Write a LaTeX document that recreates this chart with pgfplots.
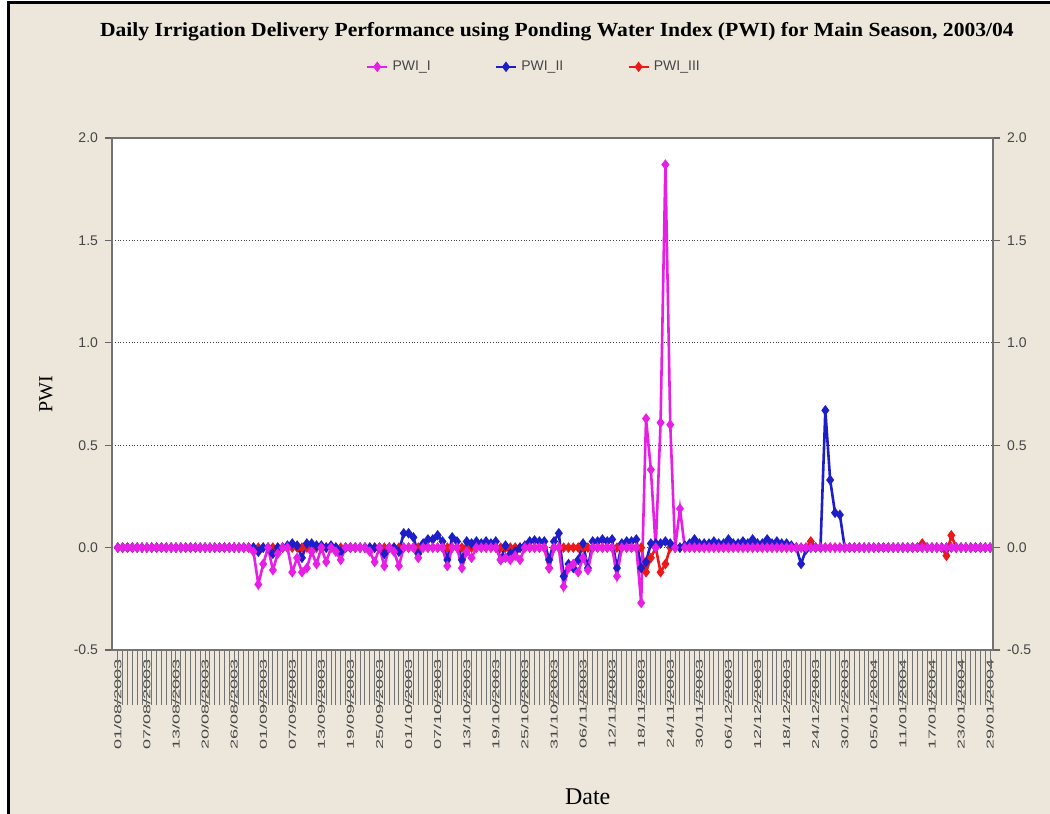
\documentclass[border=0pt]{standalone}
\usepackage{pgfplots}
\pgfplotsset{compat=1.18}
\usepackage{pgfplotstable}
\usepackage{fontspec}
\setmainfont{Liberation Serif}
\setsansfont{Liberation Sans}

\definecolor{bg}{RGB}{236,231,218}
\definecolor{pwiA}{RGB}{230,30,230}
\definecolor{pwiB}{RGB}{30,30,200}
\definecolor{pwiC}{RGB}{235,25,25}
\definecolor{tk}{RGB}{70,70,70}

\newcommand\sx[1]{\scalebox{1.8}[1]{#1}}

% day index, PWI_I, PWI_II, PWI_III
\pgfplotstableread[row sep=\\]{
d I II III\\
0 0 0 0\\ 1 0 0 0\\ 2 0 0 0\\ 3 0 0 0\\ 4 0 0 0\\ 5 0 0 0\\ 6 0 0 0\\ 7 0 0 0\\ 8 0 0 0\\ 9 0 0 0\\
10 0 0 0\\ 11 0 0 0\\ 12 0 0 0\\ 13 0 0 0\\ 14 0 0 0\\ 15 0 0 0\\ 16 0 0 0\\ 17 0 0 0\\ 18 0 0 0\\ 19 0 0 0\\
20 0 0 0\\ 21 0 0 0\\ 22 0 0 0\\ 23 0 0 0\\ 24 0 0 0\\ 25 0 0 0\\ 26 0 0 0\\ 27 0 0 0\\ 28 -0.02 0 0\\ 29 -0.18 -0.02 0\\
30 -0.08 0 0\\ 31 0 0 0\\ 32 -0.11 -0.03 0\\ 33 -0.03 0 0\\ 34 0 0 0\\ 35 0 0.01 0\\ 36 -0.12 0.02 0\\ 37 -0.05 0.01 0\\ 38 -0.12 -0.05 0\\ 39 -0.10 0.02 0\\
40 -0.02 0.02 0\\ 41 -0.08 0.01 0\\ 42 0 0.01 0\\ 43 -0.07 0 0\\ 44 0 0.01 0\\ 45 -0.02 0 0\\ 46 -0.06 -0.02 0\\ 47 0 0 0\\ 48 0 0 0\\ 49 0 0 0\\
50 0 0 0\\ 51 0 0 0\\ 52 -0.02 0 0\\ 53 -0.07 0 0\\ 54 0 0 0\\ 55 -0.09 -0.03 0\\ 56 0 0 0\\ 57 -0.02 0 0\\ 58 -0.09 -0.02 0\\ 59 0 0.07 0\\
60 0 0.07 0\\ 61 0 0.05 0\\ 62 -0.05 -0.03 0\\ 63 0 0.02 0\\ 64 0 0.04 0\\ 65 0 0.04 0\\ 66 0 0.06 0\\ 67 0 0.03 0\\ 68 -0.09 -0.06 0\\ 69 0 0.05 0\\
70 0 0.03 0\\ 71 -0.10 -0.06 0\\ 72 -0.02 0.03 0\\ 73 -0.05 0.02 0\\ 74 0 0.03 0\\ 75 0 0.02 0\\ 76 0 0.03 0\\ 77 0 0.02 0\\ 78 0 0.03 0\\ 79 -0.06 -0.06 0\\
80 -0.05 0.01 0\\ 81 -0.06 -0.03 0\\ 82 -0.04 -0.02 0\\ 83 -0.06 0 0\\ 84 0 0.01 0\\ 85 0 0.03 0\\ 86 0 0.035 0\\ 87 0 0.03 0\\ 88 0 0.03 0\\ 89 -0.10 -0.06 -0.10\\
90 0 0.03 0\\ 91 0 0.07 0\\ 92 -0.19 -0.14 0\\ 93 -0.10 -0.08 0\\ 94 -0.08 -0.10 0\\ 95 -0.12 -0.06 0\\ 96 -0.05 0.02 0\\ 97 -0.11 -0.10 0\\ 98 0 0.03 0\\ 99 0 0.03 0\\
100 0 0.04 0\\ 101 0 0.03 0\\ 102 0 0.04 0\\ 103 -0.14 -0.10 0\\ 104 0 0.02 0\\ 105 0 0.03 0\\ 106 0 0.03 0\\ 107 0 0.04 0\\ 108 -0.27 -0.10 0\\ 109 0.63 -0.07 -0.12\\
110 0.38 0.02 -0.05\\ 111 0 0.02 0\\ 112 0.61 0.02 -0.12\\ 113 1.87 0.03 -0.08\\ 114 0.60 0.02 0\\ 115 0 0 0\\ 116 0.19 0 0\\ 117 0 0.01 0\\ 118 0 0.02 0\\ 119 0 0.04 0\\
120 0 0.02 0\\ 121 0 0.02 0\\ 122 0 0.02 0\\ 123 0 0.03 0\\ 124 0 0.02 0\\ 125 0 0.02 0\\ 126 0 0.04 0\\ 127 0 0.02 0\\ 128 0 0.02 0\\ 129 0 0.03 0\\
130 0 0.02 0\\ 131 0 0.04 0\\ 132 0 0.02 0\\ 133 0 0.02 0\\ 134 0 0.04 0\\ 135 0 0.02 0\\ 136 0 0.03 0\\ 137 0 0.02 0\\ 138 0 0.02 0\\ 139 0 0.01 0\\
140 0 0 0\\ 141 0 -0.08 0\\ 142 0 -0.01 0\\ 143 0 0 0.03\\ 144 0 0 0\\ 145 0 0 0\\ 146 0 0.67 0\\ 147 0 0.33 0\\ 148 0 0.17 0\\ 149 0 0.16 0\\
150 0 0 0\\ 151 0 0 0\\ 152 0 0 0\\ 153 0 0 0\\ 154 0 0 0\\ 155 0 0 0\\ 156 0 0 0\\ 157 0 0 0\\ 158 0 0 0\\ 159 0 0 0\\
160 0 0 0\\ 161 0 0 0\\ 162 0 0 0\\ 163 0 0 0\\ 164 0 0 0\\ 165 0 0 0\\ 166 0 0 0.02\\ 167 0 0 0\\ 168 0 0 0\\ 169 0 0 0\\
170 0 0 0\\ 171 0 0 -0.04\\ 172 0 0 0.06\\ 173 0 0 0\\ 174 0 0 0\\ 175 0 0 0\\ 176 0 0 0\\ 177 0 0 0\\ 178 0 0 0\\ 179 0 0 0\\
180 0 0 0\\
}\pwi

\begin{document}
\begin{tikzpicture}
\fill[white] (0pt,0pt) rectangle (525pt,407pt);
\fill[bg] (4pt,0pt) rectangle (525pt,405.5pt);
\draw[black, line width=1.5pt] (4pt,0pt) -- (4pt,405.5pt) -- (525pt,405.5pt);

\begin{axis}[
  at={(56pt,82pt)}, anchor=south west,
  scale only axis, width=440.5pt, height=256pt,
  xmin=-1.2, xmax=180.6, ymin=-0.5, ymax=2.0,
  clip=false,
  axis background/.style={fill=white},
  axis line style={draw=black!55, line width=0.8pt},
  ytick={-0.5,0,0.5,1,1.5,2},
  ytick pos=both, yticklabel pos=left,
  tick align=outside, major tick length=3.5pt,
  ytick style={draw=black!60, line width=0.6pt},
  yticklabel style={font=\sffamily\fontsize{7}{8}\selectfont, text=tk,
    /pgf/number format/.cd, fixed, fixed zerofill, precision=1, assume math mode=true},
  ymajorgrids,
  grid style={densely dotted, black!75, line width=0.6pt},
  xtick={0,6,...,180},
  xticklabels={\sx{01/08/2003},\sx{07/08/2003},\sx{13/08/2003},\sx{20/08/2003},\sx{26/08/2003},
    \sx{01/09/2003},\sx{07/09/2003},\sx{13/09/2003},\sx{19/09/2003},\sx{25/09/2003},
    \sx{01/10/2003},\sx{07/10/2003},\sx{13/10/2003},\sx{19/10/2003},\sx{25/10/2003},\sx{31/10/2003},
    \sx{06/11/2003},\sx{12/11/2003},\sx{18/11/2003},\sx{24/11/2003},\sx{30/11/2003},
    \sx{06/12/2003},\sx{12/12/2003},\sx{18/12/2003},\sx{24/12/2003},\sx{30/12/2003},
    \sx{05/01/2004},\sx{11/01/2004},\sx{17/01/2004},\sx{23/01/2004},\sx{29/01/2004}},
  xtick style={draw=none},
  xticklabel style={rotate=90, anchor=east, font=\sffamily\fontsize{5}{6}\selectfont, text=tk, inner sep=1pt},
  title={\scalebox{1.08}[1]{Daily Irrigation Delivery Performance using Ponding Water Index (PWI) for Main Season, 2003/04}},
  title style={at={(0.505,1.184)}, anchor=center, font=\bfseries\fontsize{10}{12}\selectfont},
  xlabel={Date},
  xlabel style={at={(0.540,-0.287)}, anchor=center, font=\fontsize{12}{14}\selectfont},
  ylabel={PWI},
  ylabel style={at={(-0.075,0.5)}, anchor=center, font=\fontsize{10}{12}\selectfont},
  legend columns=3,
  legend style={draw=none, fill=none, at={(0.48,1.139)}, anchor=center,
    font=\sffamily\fontsize{7}{8}\selectfont, text=tk,
    /tikz/every even column/.append style={column sep=30pt}},
  legend image code/.code={\draw[mark repeat=2,mark phase=2,#1] plot coordinates {(0pt,0pt) (5pt,0pt) (10pt,0pt)};},
  every axis plot/.append style={line width=1.3pt, mark=diamond*, mark size=1.6pt},
]
\pgfplotsinvokeforeach{0,...,180}{\draw[black!55, line width=0.5pt] (axis cs:#1,-0.5) -- ++(0pt,-27.5pt);}

\addlegendimage{pwiA, line width=1.3pt, mark=diamond*, mark size=1.6pt}
\addlegendentry{PWI\_I}
\addlegendimage{pwiB, line width=1.3pt, mark=diamond*, mark size=1.6pt}
\addlegendentry{PWI\_II}
\addlegendimage{pwiC, line width=1.3pt, mark=diamond*, mark size=1.6pt}
\addlegendentry{PWI\_III}

\addplot[pwiC, forget plot] table[x=d, y=III] {\pwi};
\addplot[pwiB, forget plot] table[x=d, y=II] {\pwi};
\addplot[pwiA, forget plot] table[x=d, y=I] {\pwi};
\end{axis}

\begin{axis}[
  at={(56pt,82pt)}, anchor=south west,
  scale only axis, width=440.5pt, height=256pt,
  xmin=-1.2, xmax=180.6, ymin=-0.5, ymax=2.0,
  hide x axis,
  axis y line*=right,
  axis line style={draw=black!55, line width=0.8pt},
  ytick={-0.5,0,0.5,1,1.5,2},
  tick align=outside, major tick length=3.5pt,
  ytick style={draw=black!60, line width=0.6pt},
  yticklabel style={font=\sffamily\fontsize{7}{8}\selectfont, text=tk,
    /pgf/number format/.cd, fixed, fixed zerofill, precision=1, assume math mode=true},
]
\end{axis}

\pgfresetboundingbox
\useasboundingbox (0pt,0pt) rectangle (525pt,407pt);
\end{tikzpicture}
\end{document}
